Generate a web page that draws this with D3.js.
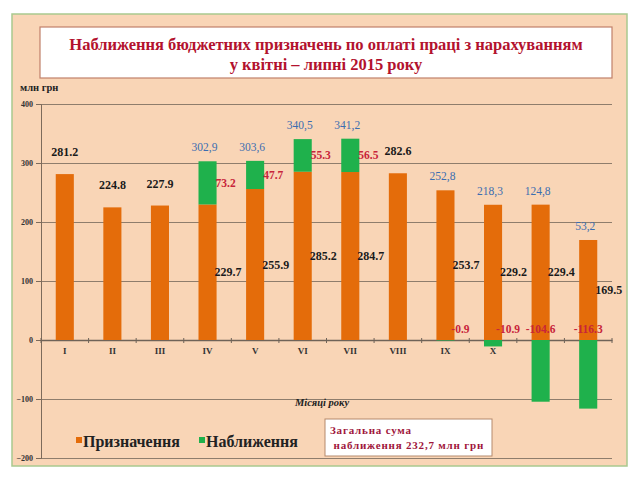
<!DOCTYPE html>
<html>
<head>
<meta charset="utf-8">
<script src="https://cdn.jsdelivr.net/npm/d3@7"></script>
<style>
  body { margin: 0; background: #fff; }
  text { font-family: "Liberation Serif", "Times New Roman", serif; }
</style>
</head>
<body>
<div id="wrapper"></div>
<script>
// data
const months = ["I", "II", "III", "IV", "V", "VI", "VII", "VIII", "IX", "X", "XI", "XII"]
const assigned = [281.2, 224.8, 227.9, 229.7, 255.9, 285.2, 284.7, 282.6, 253.7, 229.2, 229.4, 169.5]
const approach = [null, null, null, 73.2, 47.7, 55.3, 56.5, null, -0.9, -10.9, -104.6, -116.3]
const totals = [null, null, null, 302.9, 303.6, 340.5, 341.2, null, 252.8, 218.3, 124.8, 53.2]
const yTicks = [-200, -100, 0, 100, 200, 300, 400]
const titleLines = ["Наближення бюджетних призначень по оплаті праці з нарахуванням", "у квітні – липні 2015 року"]
const noteLines = ["Загальна сума", " наближення 232,7 млн грн"]

const dataset = months.map((m, i) => ({ month: m, assigned: assigned[i], approach: approach[i], total: totals[i] }))

const colors = { bg: "#f9d5b6", orange: "#e46c0a", green: "#1fb14c", grid: "#8f7d6c", red: "#c8243a", blue: "#3b6db0", dark: "#a0163c" }

const dimensions = {
  width: 640, height: 480,
  margins: { top: 104, bottom: 22, left: 41, right: 28 }
}
dimensions.boundsWidth = dimensions.width - dimensions.margins.left - dimensions.margins.right
dimensions.boundsHeight = dimensions.height - dimensions.margins.top - dimensions.margins.bottom

const svg = d3.select("#wrapper").append("svg")
  .attr("width", dimensions.width)
  .attr("height", dimensions.height)

// panel background
svg.append("rect")
  .attr("x", 12).attr("y", 14).attr("width", 615).attr("height", 452)
  .attr("fill", colors.bg).attr("stroke", "#a9c98f").attr("stroke-width", 1.5)

// title box
svg.append("rect")
  .attr("x", 40).attr("y", 27).attr("width", 572).attr("height", 51)
  .attr("fill", "#fff").attr("stroke", "#c0806a").attr("stroke-width", 1.2)
svg.selectAll(".title").data(titleLines).enter().append("text")
  .attr("x", 326).attr("y", (d, i) => 50 + i * 20)
  .attr("text-anchor", "middle")
  .attr("font-size", 16.5).attr("font-weight", "bold")
  .attr("fill", "#b3122e")
  .text(d => d)

svg.append("text").attr("x", 20).attr("y", 91)
  .attr("font-size", 10.5).attr("font-weight", "bold").attr("fill", "#222")
  .text("млн грн")

const bounds = svg.append("g")
  .attr("transform", `translate(${dimensions.margins.left},${dimensions.margins.top})`)

// scales
const xScale = d3.scaleBand()
  .domain(months)
  .range([0, dimensions.boundsWidth])
  .paddingInner(0.62).paddingOuter(0.31)

const yScale = d3.scaleLinear()
  .domain([-200, 400])
  .range([dimensions.boundsHeight, 0])

// gridlines
bounds.append("g")
  .call(d3.axisLeft(yScale).tickValues(yTicks).tickSize(-dimensions.boundsWidth).tickFormat(""))
  .call(g => g.select(".domain").remove())
  .selectAll("line").attr("stroke", colors.grid).attr("stroke-width", 1)

// y axis
const yAxis = bounds.append("g")
  .call(d3.axisLeft(yScale).tickValues(yTicks).tickSize(5).tickPadding(3))
yAxis.select(".domain").attr("stroke", "#7d6b5b")
yAxis.selectAll("line").attr("stroke", "#7d6b5b")
yAxis.selectAll("text").attr("font-size", 8).attr("font-weight", "bold").attr("fill", "#333")
  .style("font-family", "Liberation Serif")

const cx = d => xScale(d.month) + xScale.bandwidth() / 2

// zero axis with ticks between categories (drawn under the bars, so XI and XII are hidden as in the picture)
const xAxis = bounds.append("g")
  .attr("transform", `translate(0,${yScale(0)})`)
  .call(d3.axisBottom(xScale).tickSize(0).tickPadding(8))
xAxis.select(".domain").attr("stroke", "#6f6358").attr("stroke-width", 1.3)
xAxis.selectAll("text").attr("font-size", 9).attr("font-weight", "bold").attr("fill", "#333")
  .style("font-family", "Liberation Serif")
xAxis.selectAll(".sep").data(d3.range(months.length + 1)).enter().append("line")
  .attr("x1", i => i * xScale.step()).attr("x2", i => i * xScale.step())
  .attr("y1", -2).attr("y2", 3)
  .attr("stroke", "#6f6358")

// orange bars
bounds.selectAll(".assigned").data(dataset).enter().append("rect")
  .attr("x", d => xScale(d.month))
  .attr("width", xScale.bandwidth())
  .attr("y", d => yScale(d.assigned))
  .attr("height", d => yScale(0) - yScale(d.assigned))
  .attr("fill", colors.orange)

// green bars
const withApproach = dataset.filter(d => d.approach !== null)
bounds.selectAll(".approach").data(withApproach).enter().append("rect")
  .attr("x", d => xScale(d.month))
  .attr("width", xScale.bandwidth())
  .attr("y", d => d.approach > 0 ? yScale(d.assigned + d.approach) : yScale(0))
  .attr("height", d => Math.abs(yScale(0) - yScale(d.approach)))
  .attr("fill", colors.green)

// labels of orange series
bounds.selectAll(".lblA").data(dataset).enter().append("text")
  .attr("x", d => d.approach === null ? cx(d) : xScale(d.month) + xScale.bandwidth() - 2)
  .attr("y", d => d.approach === null ? yScale(d.assigned) - 18 : yScale(d.assigned / 2) + 4)
  .attr("text-anchor", d => d.approach === null ? "middle" : "start")
  .attr("font-size", 12).attr("font-weight", "bold").attr("fill", "#1a1a1a")
  .text(d => d.assigned.toFixed(1))

// labels of green series
bounds.selectAll(".lblB").data(withApproach).enter().append("text")
  .attr("x", d => d.approach > 0 ? xScale(d.month) + xScale.bandwidth() - 1
    : (Math.abs(d.approach) < 20 ? cx(d) + 15 : cx(d)))
  .attr("y", d => d.approach > 0 ? yScale(d.assigned + d.approach / 2) + 4 : yScale(0) - 7)
  .attr("text-anchor", d => d.approach > 0 ? "start" : "middle")
  .attr("font-size", 11.5).attr("font-weight", "bold").attr("fill", colors.red)
  .text(d => d.approach.toFixed(1))

// totals
bounds.selectAll(".lblT").data(dataset.filter(d => d.total !== null)).enter().append("text")
  .attr("x", d => cx(d) - 3)
  .attr("y", d => yScale(Math.max(d.assigned, d.assigned + d.approach)) - 10)
  .attr("text-anchor", "middle")
  .attr("font-size", 11.5).attr("fill", colors.blue)
  .text(d => d3.format(".1f")(d.total).replace(".", ","))

// axis title
svg.append("text").attr("x", 322).attr("y", 406)
  .attr("text-anchor", "middle")
  .attr("font-size", 10.5).attr("font-weight", "bold").attr("font-style", "italic").attr("fill", "#222")
  .text("Місяці року")

// legend
const legend = svg.append("g").attr("transform", "translate(76,442)")
const legendItems = [{ name: "Призначення", color: colors.orange, x: 0 }, { name: "Наближення", color: colors.green, x: 123 }]
legend.selectAll("rect").data(legendItems).enter().append("rect")
  .attr("x", d => d.x).attr("y", -5).attr("width", 6).attr("height", 6).attr("fill", d => d.color)
legend.selectAll("text").data(legendItems).enter().append("text")
  .attr("x", d => d.x + 7).attr("y", 5)
  .attr("font-size", 16).attr("font-weight", "bold").attr("fill", "#222")
  .text(d => d.name)

// note box
svg.append("rect").attr("x", 325).attr("y", 419).attr("width", 167).attr("height", 37)
  .attr("fill", "#fff").attr("stroke", "#b58a6c").attr("stroke-width", 1)
svg.selectAll(".note").data(noteLines).enter().append("text")
  .attr("x", 330).attr("y", (d, i) => 434 + i * 15)
  .attr("font-size", 11).attr("font-weight", "bold").attr("fill", colors.dark)
  .attr("letter-spacing", 0.8)
  .style("white-space", "pre")
  .text(d => d)
</script>
</body>
</html>
